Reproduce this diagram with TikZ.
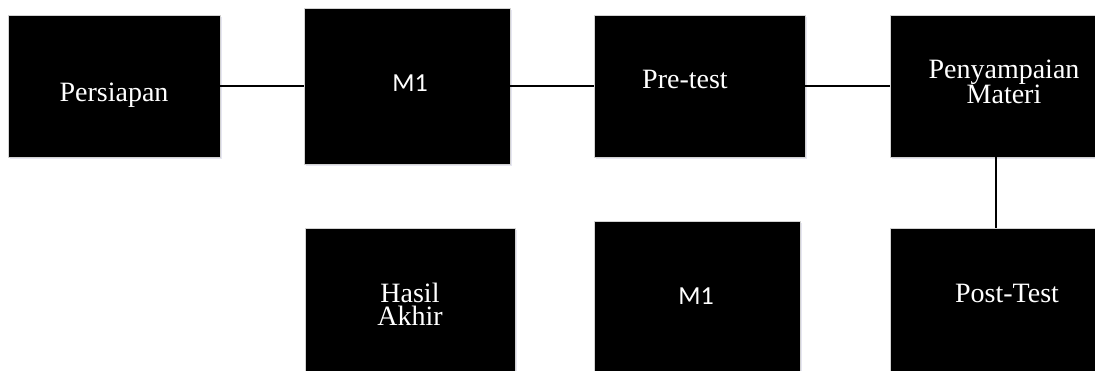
\documentclass[tikz,border=0pt]{standalone}
\usepackage{fontspec}
\setmainfont{Liberation Serif}
\newfontfamily\calibri{Carlito}
\usetikzlibrary{shadows}
\newcommand{\kotak}[5]{\node[kotak,minimum width=#4pt,minimum height=#5pt] (#1) at (#2,#3) {}}
\newcommand{\garis}[2]{\draw[tebal] (#1) -- (#2)}
\tikzset{
	tebal/.style={line width=1.6pt},
	kotak/.style={draw=gray!35,line width=0.8pt,fill=black,inner sep=0pt,
		drop shadow={shadow xshift=1.5pt,shadow yshift=-2.5pt,fill=blue!30!gray!25,opacity=0.6}},
	tulis/.style={text=white,font=\fontsize{28}{19}\selectfont,align=center,inner sep=0pt},
	tulisM/.style={text=white,font=\calibri\fontsize{26}{26}\selectfont,inner sep=0pt}
}

\begin{document}
\begin{tikzpicture}[x=1pt,y=-1pt]
	\path[use as bounding box,fill=white] (0,0) rectangle (1095,371);
%
	\kotak{persiapan}{114}{86}{212}{142};
	\kotak{mA}{407}{86}{206}{156};
	\kotak{pretest}{699.5}{86}{211}{142};
	\kotak{penyampaian}{996}{86}{212}{142};
%
	\kotak{hasil}{410}{300.5}{210}{145};
	\kotak{mB}{697}{297}{206}{152};
	\kotak{posttest}{996}{300.5}{212}{145};
%
	\node[tulis,anchor=base] (tPersiapan) at (114,102) {Persiapan};
	\node[tulisM,anchor=base] (tmA) at (410,92) {M1};
	\node[tulis,anchor=base] (tPretest) at (685,89) {Pre-test};
	\node[tulis] (tPenyampaian) at (1004,82) {Penyampaian\\Materi};
	\node[tulis] (tHasil) at (410,304) {Hasil\\[2pt]Akhir};
	\node[tulisM,anchor=base] (tmB) at (696,305) {M1};
	\node[tulis,anchor=base] (tPosttest) at (1007,303) {Post-Test};
%
	\garis{persiapan}{mA};
	\garis{mA}{pretest};
	\garis{pretest}{penyampaian};
	\garis{penyampaian}{posttest};
%
\end{tikzpicture}
\end{document}
